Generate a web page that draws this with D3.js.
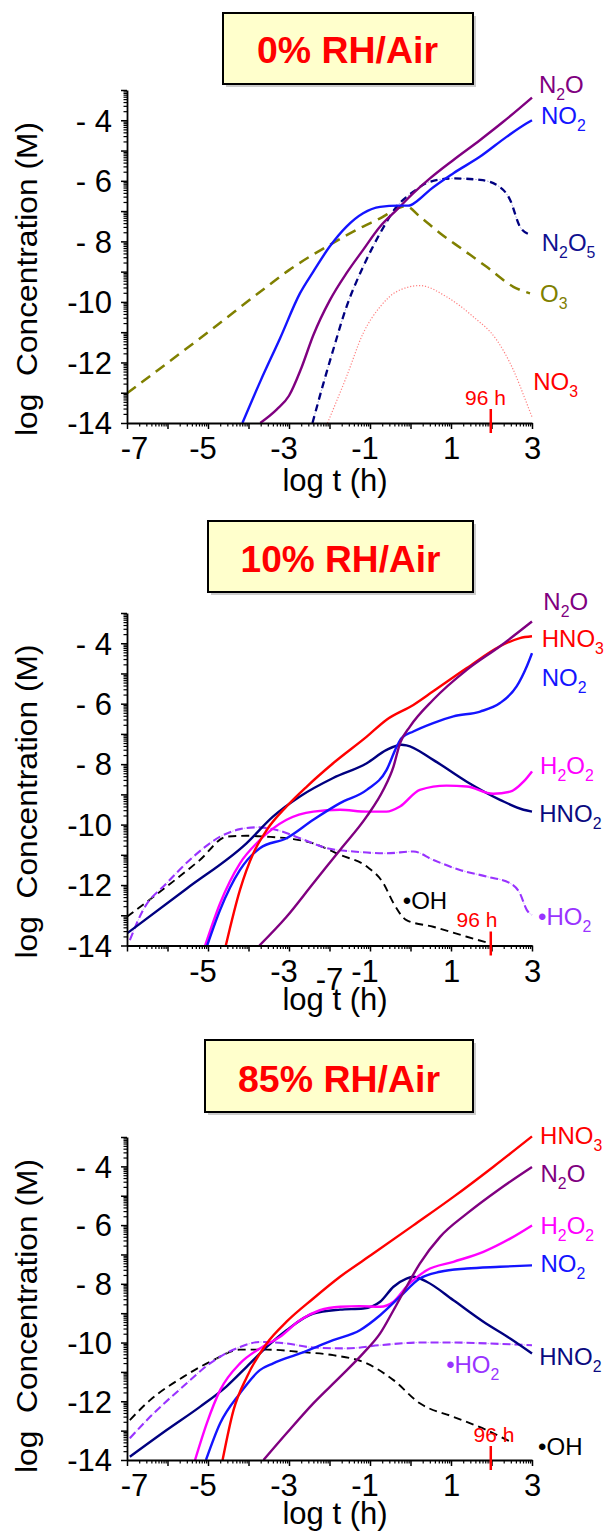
<!DOCTYPE html>
<html><head><meta charset="utf-8">
<script src="https://cdn.jsdelivr.net/npm/d3@7"></script>
<style>
html,body{margin:0;padding:0;background:#fff;}
svg{display:block;}
text{font-family:"Liberation Sans",Arial,sans-serif;}
</style></head><body>
<svg id="chart" width="607" height="1534"></svg>
<script>
// ---------------- DATA ----------------
const xDomain = [-7, 3];
const yDomain = [-14, -3];
const xMajorTicks = [-7,-6,-5,-4,-3,-2,-1,0,1,2,3];
const yMajorTicks = [-14,-13,-12,-11,-10,-9,-8,-7,-6,-5,-4,-3];
const xTickValues = [-7,-5,-3,-1,1,3];
const xTickLabels = ["-7","-5","-3","-1","1","3"];
const xTickValues10 = [-5,-3,-1,1,3];
const xTickLabels10 = ["-5","-3","-1","1","3"];
const strayLabel10 = "-7";
const strayLabel10At = -2;
const yTickValues = [-4,-6,-8,-10,-12,-14];
const yTickLabels = ["- 4","- 6","- 8","-10","-12","-14"];
const marker96h = Math.log10(96);
const markerLabel = "96 h";
const panelTitles = ["0% RH/Air","10% RH/Air","85% RH/Air"];
const xAxisTitle = "log t (h)";
const yAxisTitle = "log  Concentration (M)";

// Panel 1: 0% RH / Air
const p1_O3   = [[-7,-13.02],[-5,-11.0],[-3.5,-9.45],[-3.0,-8.95],[-2.0,-8.12],[-1.17,-7.51],[-0.75,-7.24],[-0.3,-6.9],[-0.12,-6.83],[0.23,-7.18],[0.73,-7.73],[1.3,-8.28],[1.88,-8.84],[2.54,-9.5],[2.95,-9.72]];
const p1_NO3  = [[-2.05,-14],[-1.58,-12.47],[-1.17,-11.04],[-0.75,-10.16],[-0.34,-9.66],[0.23,-9.46],[0.89,-9.83],[1.55,-10.49],[2.13,-11.26],[2.54,-12.25],[2.87,-13.35],[3,-13.8]];
const p1_N2O5 = [[-2.42,-14],[-2.15,-12.69],[-1.91,-11.59],[-1.58,-10.16],[-1.17,-8.84],[-0.75,-7.73],[-0.34,-6.85],[0.07,-6.36],[0.48,-6.03],[1.06,-5.92],[1.72,-5.97],[2.13,-6.14],[2.46,-6.63],[2.7,-7.51],[2.9,-7.75]];
const p1_N2O  = [[-3.71,-14],[-3.3,-13.55],[-3.0,-13.1],[-2.7,-12.2],[-2.4,-11.1],[-1.99,-9.94],[-1.58,-9.05],[-1.17,-8.28],[-0.75,-7.51],[-0.34,-6.96],[0.07,-6.41],[0.48,-5.92],[1.06,-5.31],[1.72,-4.65],[2.29,-4.05],[3,-3.25]];
const p1_NO2  = [[-4.15,-14],[-3.7,-12.6],[-3.22,-11.2],[-2.73,-9.72],[-2.4,-9.0],[-2.0,-8.18],[-1.58,-7.51],[-1.17,-7.07],[-0.75,-6.86],[-0.3,-6.82],[-0.05,-6.82],[0.15,-6.68],[0.48,-6.3],[1.06,-5.75],[1.72,-5.2],[2.38,-4.54],[2.87,-4.1],[3,-4.0]];

// Panel 2: 10% RH / Air
const p2_OH   = [[-7,-13.05],[-6.02,-12.05],[-5.2,-11.17],[-4.54,-10.4],[-4.05,-10.37],[-3.55,-10.4],[-2.89,-10.48],[-2.4,-10.62],[-1.74,-11.0],[-1.08,-11.39],[-0.67,-11.94],[-0.42,-12.6],[-0.1,-13.16],[0.56,-13.38],[1.39,-13.71],[1.88,-13.9]];
const p2_HO2  = [[-6.93,-13.82],[-6.6,-12.82],[-6.02,-11.94],[-5.36,-11.06],[-4.7,-10.4],[-4.21,-10.15],[-3.8,-10.09],[-3.3,-10.18],[-2.73,-10.45],[-2.07,-10.78],[-1.41,-10.89],[-0.59,-10.95],[0.07,-10.89],[0.56,-11.17],[1.22,-11.5],[1.88,-11.72],[2.46,-11.94],[2.7,-12.27],[2.87,-12.82],[3,-12.99]];
const p2_HNO2 = [[-7,-13.6],[-5.53,-12.12],[-4.05,-10.62],[-3.39,-9.73],[-2.73,-9.07],[-1.91,-8.46],[-1.08,-7.97],[-0.59,-7.53],[-0.22,-7.36],[-0.1,-7.38],[0.56,-7.86],[1.39,-8.58],[2.21,-9.18],[2.79,-9.51],[3,-9.57]];
const p2_H2O2 = [[-5.07,-14],[-4.7,-12.6],[-4.21,-11.28],[-3.72,-10.51],[-3.06,-9.84],[-2.4,-9.57],[-1.74,-9.51],[-1.08,-9.57],[-0.59,-9.57],[-0.26,-9.4],[0.23,-8.85],[0.89,-8.71],[1.39,-8.74],[2.04,-8.98],[2.46,-8.91],[2.79,-8.58],[3,-8.24]];
const p2_NO2  = [[-5.02,-14],[-4.7,-12.82],[-4.21,-11.5],[-3.72,-10.78],[-3.06,-10.45],[-2.4,-9.84],[-1.74,-9.29],[-1.08,-8.85],[-0.59,-8.19],[-0.34,-7.42],[-0.22,-7.14],[0.07,-6.92],[0.56,-6.64],[1.06,-6.42],[1.72,-6.26],[2.21,-5.98],[2.62,-5.43],[2.87,-4.77],[3,-4.33]];
const p2_HNO3 = [[-4.56,-14],[-4.21,-12.16],[-3.88,-10.95],[-3.55,-10.18],[-3.06,-9.4],[-2.56,-8.74],[-1.91,-7.97],[-1.08,-7.09],[-0.59,-6.53],[0.07,-6.04],[0.56,-5.59],[1.39,-4.82],[2.21,-4.1],[2.7,-3.83],[3,-3.77]];
const p2_N2O  = [[-3.73,-14],[-3.06,-13.05],[-2.4,-11.94],[-1.74,-10.84],[-1.08,-9.73],[-0.67,-8.85],[-0.42,-8.08],[-0.26,-7.31],[-0.01,-6.75],[0.56,-5.87],[1.39,-4.88],[2.21,-4.1],[3,-3.28]];

// Panel 3: 85% RH / Air
const p3_OH   = [[-6.93,-12.64],[-6.43,-11.96],[-5.61,-11.17],[-4.87,-10.6],[-4.21,-10.24],[-3.55,-10.24],[-2.73,-10.32],[-1.91,-10.43],[-1.08,-10.71],[-0.42,-11.28],[0.23,-12.07],[1.06,-12.53],[1.88,-12.98],[2.54,-13.43]];
const p3_HO2  = [[-6.93,-13.26],[-6.43,-12.53],[-5.61,-11.49],[-4.95,-10.71],[-4.21,-10.15],[-3.72,-9.98],[-3.06,-10.03],[-2.4,-10.17],[-1.58,-10.2],[-0.75,-10.09],[0.23,-10.0],[1.06,-10.0],[1.88,-10.03],[3,-10.09]];
const p3_HNO2 = [[-6.93,-13.89],[-6.02,-12.98],[-5.2,-12.19],[-4.54,-11.49],[-4.04,-10.82],[-3.55,-10.15],[-3.06,-9.58],[-2.4,-9.01],[-1.74,-8.88],[-1.17,-8.84],[-0.75,-8.61],[-0.42,-8.1],[-0.1,-7.82],[0.07,-7.76],[0.4,-7.93],[1.06,-8.56],[1.8,-9.29],[2.46,-9.86],[3,-10.37]];
const p3_H2O2 = [[-5.32,-14],[-5.03,-12.75],[-4.7,-11.62],[-4.21,-10.71],[-3.72,-10.2],[-3.22,-9.8],[-2.73,-9.24],[-2.24,-8.9],[-1.74,-8.78],[-1.25,-8.76],[-0.75,-8.78],[-0.42,-8.61],[-0.1,-8.1],[0.4,-7.54],[1.06,-7.25],[1.8,-6.91],[2.46,-6.46],[3,-6.01]];
const p3_NO2  = [[-5.05,-14],[-4.7,-12.75],[-4.21,-11.73],[-3.72,-10.94],[-3.39,-10.71],[-2.73,-10.37],[-1.91,-9.92],[-1.25,-9.58],[-0.75,-9.07],[-0.26,-8.44],[0.23,-7.82],[0.73,-7.59],[1.39,-7.48],[2.21,-7.42],[3,-7.37]];
const p3_N2O  = [[-3.63,-14],[-3.06,-13.09],[-2.4,-12.07],[-1.74,-11.17],[-1.17,-10.37],[-0.75,-9.69],[-0.42,-8.9],[-0.1,-8.1],[0.23,-7.31],[0.73,-6.4],[1.39,-5.61],[2.21,-4.76],[3,-4.02]];
const p3_HNO3 = [[-4.64,-14],[-4.37,-12.3],[-4.04,-11.17],[-3.55,-10.03],[-3.06,-9.29],[-2.4,-8.5],[-1.74,-7.76],[-0.92,-6.97],[0.07,-6.01],[1.06,-5.04],[2.04,-4.02],[3,-2.98]];

// Label anchors in data units: [text, species, x, y]
const p1_labels = [["N{2}O","N2O",3.17,-3.10],["NO{2}","NO2",3.22,-4.12],["N{2}O{5}","N2O5",3.24,-8.31],["O{3}","O3",3.20,-9.99],["NO{3}","NO3",3.03,-12.91]];
const p2_labels = [["N{2}O","N2O",3.28,-2.91],["HNO{3}","HNO3",3.24,-4.13],["NO{2}","NO2",3.24,-5.43],["H{2}O{2}","H2O2",3.20,-8.32],["HNO{2}","HNO2",3.18,-9.93],["•OH","OH",-0.19,-12.8],["•HO{2}","HO2",3.15,-13.32]];
const p3_labels = [["HNO{3}","HNO3",3.20,-3.23],["N{2}O","N2O",3.21,-4.53],["H{2}O{2}","H2O2",3.21,-6.29],["NO{2}","NO2",3.21,-7.60],["HNO{2}","HNO2",3.18,-10.77],["•HO{2}","HO2",0.88,-11.05],["•OH","OH",3.15,-13.83]];
const markerLabelPos = [[1.85,-13.41],[1.64,-13.38],[2.06,-13.38]];

// ---------------- STYLES / LAYOUT ----------------
const styles = {
  NO2:  {color:"#1414FF", label:"#1414FF", width:2.4},
  N2O:  {color:"#800080", label:"#800080", width:2.4},
  N2O5: {color:"#000080", label:"#101090", width:2.3, dash:"7,5", under:"#a8a8dd"},
  O3:   {color:"#808000", label:"#808000", width:2.5, dash:"11,7"},
  NO3:  {color:"#FF8080", label:"#FF0000", width:1.2, dash:"1.2,1.8"},
  HNO3: {color:"#FF0000", label:"#FF0000", width:2.4},
  H2O2: {color:"#FF00FF", label:"#FF00FF", width:2.4},
  HNO2: {color:"#000080", label:"#0A0A80", width:2.4},
  OH:   {color:"#000000", label:"#000000", width:1.9, dash:"8,5"},
  HO2:  {color:"#9933FF", label:"#9933FF", width:2.1, dash:"8,4", under:"#d2b0ff"}
};

const panels = [
  {title:panelTitles[0], yTop:90, yBot:423, box:[223,13,250,71], tX:347.5, tY:63, tW:181, xtY:68,
   series:[["O3",p1_O3],["NO3",p1_NO3],["N2O5",p1_N2O5],["N2O",p1_N2O],["NO2",p1_NO2]],
   labels:p1_labels, mk:markerLabelPos[0], xt:xTickValues, xl:xTickLabels, stray:false},
  {title:panelTitles[1], yTop:613, yBot:945.5, box:[208,521,265,71], tX:340.5, tY:572, tW:200, xtY:64,
   series:[["OH",p2_OH],["HO2",p2_HO2],["HNO2",p2_HNO2],["H2O2",p2_H2O2],["NO2",p2_NO2],["HNO3",p2_HNO3],["N2O",p2_N2O]],
   labels:p2_labels, mk:markerLabelPos[1], xt:xTickValues10, xl:xTickLabels10, stray:true},
  {title:panelTitles[2], yTop:1137, yBot:1460, box:[205,1040,268,72], tX:339, tY:1091.5, tW:202, xtY:64,
   series:[["OH",p3_OH],["HO2",p3_HO2],["HNO2",p3_HNO2],["H2O2",p3_H2O2],["NO2",p3_NO2],["N2O",p3_N2O],["HNO3",p3_HNO3]],
   labels:p3_labels, mk:markerLabelPos[2], xt:xTickValues, xl:xTickLabels, stray:false}
];

const svg = d3.select("#chart");
const X0 = 127, X1 = 532;

const minorX = [];
for (let n = xDomain[0]; n < xDomain[1]; n++) for (let k = 2; k <= 9; k++) minorX.push(n + Math.log10(k));
const minorY = [];
for (let n = yDomain[0]; n < yDomain[1]; n++) for (let k = 2; k <= 9; k++) minorY.push(n + Math.log10(k));

function addLabel(g, str, px, py, color, size) {
  const t = g.append("text").attr("x", px).attr("y", py).attr("fill", color).attr("font-size", size);
  const re = /\{(\d)\}|([^{]+)/g;
  let m, sub = false;
  while ((m = re.exec(str))) {
    if (m[1]) {
      t.append("tspan").attr("font-size", size * 0.66).attr("dy", sub ? 0 : 7).text(m[1]);
      sub = true;
    } else {
      const ts = t.append("tspan");
      if (sub) { ts.attr("dy", -7); sub = false; }
      ts.text(m[2]);
    }
  }
  return t;
}

panels.forEach((P, pi) => {
  const g = svg.append("g");
  const x = d3.scaleLinear().domain(xDomain).range([X0, X1]);
  const y = d3.scaleLinear().domain(yDomain).range([P.yBot, P.yTop]);

  // title box
  const [bx, by, bw, bh] = P.box;
  g.append("rect").attr("x", bx + 3).attr("y", by + 3).attr("width", bw).attr("height", bh)
    .attr("fill", "#9a9a9a").attr("opacity", 0.5);
  g.append("rect").attr("x", bx).attr("y", by).attr("width", bw).attr("height", bh)
    .attr("fill", "#FFFFCC").attr("stroke", "#000").attr("stroke-width", 2);
  g.append("text").attr("x", P.tX).attr("y", P.tY).attr("text-anchor", "middle")
    .attr("font-family", "Lato, 'Open Sans', sans-serif").attr("font-weight", 700)
    .attr("font-size", 36).attr("fill", "#FF0000")
    .attr("textLength", P.tW).attr("lengthAdjust", "spacingAndGlyphs")
    .text(P.title);

  // clip
  const cid = "clip" + pi;
  g.append("clipPath").attr("id", cid).append("rect")
    .attr("x", X0).attr("y", P.yTop - 2).attr("width", X1 - X0 + 1).attr("height", P.yBot - P.yTop + 2);

  // curves
  const line = d3.line().x(d => x(d[0])).y(d => y(d[1])).curve(d3.curveMonotoneX);
  const cg = g.append("g").attr("clip-path", `url(#${cid})`);
  P.series.forEach(([key, data]) => {
    const s = styles[key];
    if (s.under) {
      cg.append("path").datum(data).attr("d", line)
        .attr("fill", "none").attr("stroke", s.under).attr("stroke-width", 1)
        .attr("stroke-dasharray", "1.5,1.5");
    }
    cg.append("path").datum(data).attr("d", line)
      .attr("fill", "none").attr("stroke", s.color).attr("stroke-width", s.width)
      .attr("stroke-dasharray", s.dash || null).attr("stroke-linejoin", "round");
  });

  // axes: minor ticks
  g.append("g").attr("transform", `translate(0,${P.yBot})`)
    .call(d3.axisBottom(x).tickValues(minorX).tickSize(3.5).tickFormat("").tickSizeOuter(0))
    .call(a => a.select(".domain").remove())
    .selectAll("line").attr("stroke-width", 1.2);
  g.append("g").attr("transform", `translate(${X0},0)`)
    .call(d3.axisLeft(y).tickValues(minorY).tickSize(3.5).tickFormat("").tickSizeOuter(0))
    .call(a => a.select(".domain").remove())
    .selectAll("line").attr("stroke-width", 1.2);
  // major ticks + domain
  g.append("g").attr("transform", `translate(0,${P.yBot})`)
    .call(d3.axisBottom(x).tickValues(xMajorTicks).tickSize(6).tickFormat("").tickSizeOuter(0))
    .call(a => a.select(".domain").attr("stroke-width", 1.8))
    .selectAll("line").attr("stroke-width", 1.5);
  g.append("g").attr("transform", `translate(${X0},0)`)
    .call(d3.axisLeft(y).tickValues(yMajorTicks).tickSize(6).tickFormat("").tickSizeOuter(0))
    .call(a => a.select(".domain").attr("stroke-width", 1.8))
    .selectAll("line").attr("stroke-width", 1.5);

  // x tick labels
  const xl = g.append("g").attr("transform", `translate(0,${P.yBot})`)
    .call(d3.axisBottom(x).tickValues(P.xt).tickSize(0).tickFormat((d, i) => P.xl[i]));
  xl.select(".domain").remove();
  xl.selectAll("text").attr("font-family", "'Liberation Sans', Arial, sans-serif").attr("font-size", 31)
    .attr("fill", "#000").attr("y", 36).attr("dy", 0)
    .attr("dx", d => d === -7 ? 7 : (d < 0 ? -5.5 : 0));
  if (P.stray) {
    g.append("text").attr("x", x(strayLabel10At)).attr("y", P.yBot + 44)
      .attr("text-anchor", "middle").attr("font-size", 31).attr("fill", "#000").text(strayLabel10);
  }

  // y tick labels
  const yl = g.append("g").attr("transform", `translate(${X0},0)`)
    .call(d3.axisLeft(y).tickValues(yTickValues).tickSize(0).tickFormat((d, i) => yTickLabels[i]));
  yl.select(".domain").remove();
  yl.selectAll("text").attr("font-family", "'Liberation Sans', Arial, sans-serif").attr("font-size", 31)
    .attr("fill", "#000").attr("x", -15).attr("dy", "0.35em").style("white-space", "pre");

  // axis titles
  g.append("text").attr("x", 335).attr("y", P.yBot + P.xtY).attr("text-anchor", "middle")
    .attr("font-size", 31).attr("fill", "#000").text(xAxisTitle);
  g.append("text").attr("transform", `translate(37,${P.yBot - 144}) rotate(-90)`)
    .attr("text-anchor", "middle").attr("font-size", 29).attr("fill", "#000")
    .attr("textLength", 314).attr("lengthAdjust", "spacingAndGlyphs")
    .style("white-space", "pre").text(yAxisTitle);

  // 96 h marker
  g.append("line").attr("x1", x(marker96h)).attr("x2", x(marker96h))
    .attr("y1", P.yBot - 14).attr("y2", P.yBot + 10)
    .attr("stroke", "#FF0000").attr("stroke-width", 2.5);
  g.append("text").attr("x", x(P.mk[0])).attr("y", y(P.mk[1])).attr("text-anchor", "middle")
    .attr("font-size", 21).attr("fill", "#FF0000").text(markerLabel);

  // species labels
  P.labels.forEach(([txt, key, lx, ly]) => {
    addLabel(g, txt, x(lx), y(ly), styles[key].label, 24);
  });
});
</script></body></html>
